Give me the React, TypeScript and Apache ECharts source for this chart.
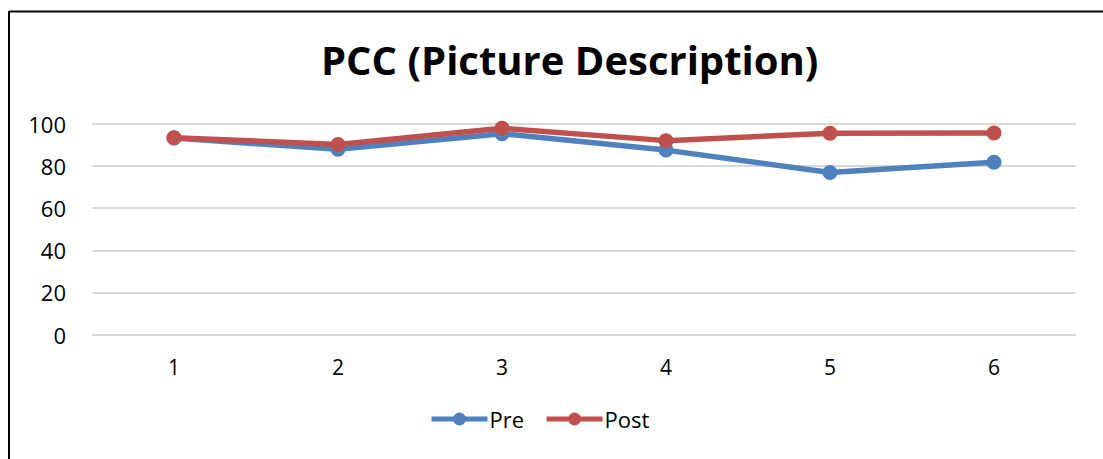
import React, { useEffect, useRef } from "react";
import * as echarts from "echarts";

const categories = ["1", "2", "3", "4", "5", "6"];
const preValues = [93.3, 88.0, 95.4, 87.6, 77.0, 81.8];
const postValues = [93.5, 90.3, 98.0, 92.1, 95.6, 95.7];
const titleText = "PCC (Picture Description)";

export default function App() {
  const ref = useRef<HTMLDivElement>(null);
  useEffect(() => {
    if (!ref.current) return;
    const chart = echarts.init(ref.current, null, { renderer: "svg" });
    const font = "Open Sans, Noto Sans, sans-serif";
    chart.setOption({
      animation: false,
      backgroundColor: "#fff",
      title: {
        text: titleText,
        left: 316,
        top: 34,
        textStyle: { fontFamily: font, fontWeight: "bold", fontSize: 40, color: "#000" },
      },
      legend: {
        bottom: 24,
        left: 424,
        itemWidth: 56,
        itemHeight: 16,
        itemGap: 20,
        lineStyle: { width: 5 },
        textStyle: { fontFamily: font, fontSize: 22, color: "#000", padding: [0, 0, 0, -3] },
        data: ["Pre", "Post"],
      },
      grid: { left: 92, right: 27, top: 124, bottom: 124.5 },
      xAxis: {
        type: "category",
        data: categories,
        boundaryGap: true,
        axisLine: { show: false },
        axisTick: { show: false },
        axisLabel: { fontFamily: font, fontSize: 21, color: "#000", margin: 22 },
      },
      yAxis: {
        type: "value",
        min: 0,
        max: 100,
        interval: 20,
        axisLine: { show: false },
        axisTick: { show: false },
        splitLine: { lineStyle: { color: "#d9d9d9", width: 2 } },
        axisLabel: { fontFamily: font, fontSize: 22, color: "#000", margin: 26 },
      },
      series: [
        {
          name: "Pre",
          type: "line",
          data: preValues,
          symbol: "circle",
          symbolSize: 15,
          lineStyle: { width: 5.5, color: "#4f81bd" },
          itemStyle: { color: "#4f81bd" },
        },
        {
          name: "Post",
          type: "line",
          data: postValues,
          symbol: "circle",
          symbolSize: 15,
          lineStyle: { width: 5.5, color: "#c0504d" },
          itemStyle: { color: "#c0504d" },
        },
      ],
      graphic: [
        { type: "line", shape: { x1: 9, y1: 11.5, x2: 1103, y2: 11.5 }, style: { stroke: "#000", lineWidth: 2 } },
        { type: "line", shape: { x1: 9, y1: 11, x2: 9, y2: 459 }, style: { stroke: "#000", lineWidth: 2 } },
      ],
    });
    return () => chart.dispose();
  }, []);
  return (
    <div
      ref={ref}
      style={{ position: "fixed", left: 0, top: 0, width: 1103, height: 459 }}
    />
  );
}
